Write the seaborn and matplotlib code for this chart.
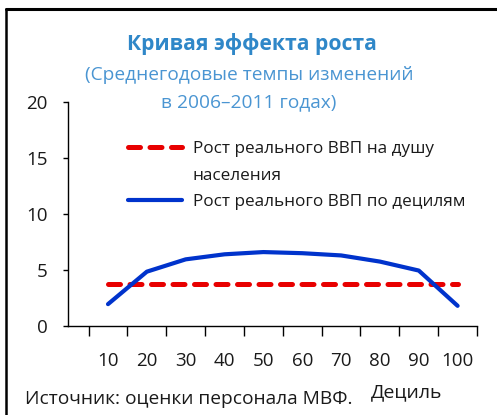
import pandas as pd
import seaborn as sns
import matplotlib.pyplot as plt
from matplotlib.lines import Line2D
from matplotlib.ticker import FixedLocator

# Данные
deciles = ['10', '20', '30', '40', '50', '60', '70', '80', '90', '100']
decile_growth = [1.95, 4.85, 5.95, 6.4, 6.6, 6.5, 6.3, 5.75, 4.95, 1.8]
per_capita_growth = [3.72, 3.72, 3.72, 3.72, 3.72, 3.72, 3.72, 3.72, 3.72, 3.72]
y_ticks = [0, 5, 10, 15, 20]

label_capita = 'Рост реального ВВП на душу'
label_capita_2 = 'населения'
label_deciles = 'Рост реального ВВП по децилям'

df = pd.DataFrame({'decile': deciles, 'deciles': decile_growth, 'capita': per_capita_growth})

sns.set_style('white')
plt.rcParams['font.family'] = ['Open Sans', 'DejaVu Sans']

fig = plt.figure(figsize=(4.97, 4.15), dpi=100)
ax = fig.add_axes([0.1368, 0.2145, 0.823, 0.5397])

sns.lineplot(data=df, x='decile', y='capita', ax=ax, color='#E80000', lw=3.6,
             linestyle=(0, (2.4, 1.9)), dash_capstyle='round', label=label_capita, sort=False)
sns.lineplot(data=df, x='decile', y='deciles', ax=ax, color='#0033CC', lw=3.0,
             solid_capstyle='round', label=label_deciles, sort=False)

ax.set_xlim(-1.03, 9.5)
ax.set_ylim(0, 20)
ax.set_yticks(y_ticks)
ax.set_xlabel('')
ax.set_ylabel('')
ax.xaxis.set_minor_locator(FixedLocator([i - 0.5 for i in range(len(deciles) + 1)]))
ax.tick_params(axis='x', which='major', length=0, pad=19, labelsize=13.5, labelcolor='#1a1a1a')
ax.tick_params(axis='x', which='minor', length=7.5, width=1, color='black', direction='out', bottom=True)
ax.tick_params(axis='y', length=3.6, width=1, color='black', direction='out', left=True,
               pad=11, labelsize=13.5, labelcolor='#1a1a1a')
for s in ['top', 'right']:
    ax.spines[s].set_visible(False)
for s in ['left', 'bottom']:
    ax.spines[s].set_color('black')
    ax.spines[s].set_linewidth(1.0)

# Легенда (перенос строки через пустой маркер)
h = ax.get_legend_handles_labels()[0]
blank = Line2D([], [], color='none')
ax.legend([h[0], blank, h[1]], [label_capita, label_capita_2, label_deciles],
          loc='upper left', bbox_to_anchor=(0.125, 0.862), frameon=False,
          fontsize=12.3, handlelength=3.2, handletextpad=0.6, labelspacing=0.6,
          borderpad=0, labelcolor='#1a1a1a')

# Заголовки и подписи
fig.text(0.507, 0.894, 'Кривая эффекта роста', ha='center', va='center',
         fontsize=15.2, fontweight='bold', color='#2F87C8')
fig.text(0.501, 0.819, '(Среднегодовые темпы изменений', ha='center', va='center',
         fontsize=13.8, color='#4A95D2')
fig.text(0.501, 0.754, 'в 2006–2011 годах)', ha='center', va='center',
         fontsize=13.8, color='#4A95D2')
fig.text(0.05, 0.0386, 'Источник: оценки персонала МВФ.', ha='left', va='center',
         fontsize=13.8, color='#1a1a1a')
fig.text(0.819, 0.055, 'Дециль', ha='center', va='center', fontsize=14, color='#1a1a1a')

# Рамка сверху и слева
fig.add_artist(Line2D([0.013, 1.0], [0.9795, 0.9795], color='black', lw=2.2))
fig.add_artist(Line2D([0.013, 0.013], [0.0, 0.9795], color='black', lw=1.8))

fig.savefig('out.png', dpi=100)
